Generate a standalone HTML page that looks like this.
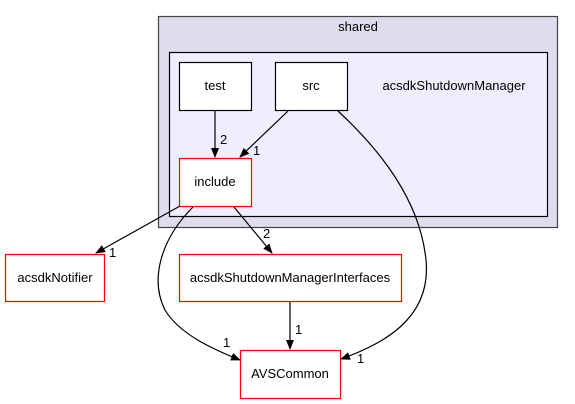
<!DOCTYPE html>
<html><head><style>html,body{margin:0;padding:0;background:#fff;}svg{display:block}</style></head>
<body>
<svg width="575" height="404" xmlns="http://www.w3.org/2000/svg" font-family="Liberation Sans, sans-serif" font-size="13">
<defs><marker id="a" markerWidth="10" markerHeight="8" refX="9" refY="4" orient="auto" markerUnits="userSpaceOnUse"><path d="M0,0 L10,4 L0,8 z" fill="#000"/></marker></defs>
<rect x="158.5" y="16.5" width="399" height="211" fill="#ddddee" stroke="#444" stroke-width="1.2"/>
<text x="358" y="31" text-anchor="middle">shared</text>
<rect x="169.5" y="52.5" width="378" height="164" fill="#eeeeff" stroke="#000" stroke-width="1.2"/>
<text x="454" y="90" text-anchor="middle">acsdkShutdownManager</text>
<rect x="179.5" y="62.5" width="72" height="48" fill="#fff" stroke="#000" stroke-width="1.2"/>
<text x="215" y="90" text-anchor="middle">test</text>
<rect x="275.5" y="62.5" width="72" height="48" fill="#fff" stroke="#000" stroke-width="1.2"/>
<text x="311" y="90" text-anchor="middle">src</text>
<rect x="179.5" y="158.5" width="72" height="48" fill="#fff" stroke="#f00" stroke-width="1.2"/>
<text x="215" y="186" text-anchor="middle">include</text>
<rect x="5.5" y="254.5" width="99" height="47" fill="#fff" stroke="#f00" stroke-width="1.2"/>
<text x="55" y="282" text-anchor="middle">acsdkNotifier</text>
<rect x="179.5" y="254.5" width="222" height="47" fill="#fff" stroke="#f00" stroke-width="1.2"/>
<text x="290" y="282" text-anchor="middle">acsdkShutdownManagerInterfaces</text>
<rect x="240.5" y="350.5" width="100" height="48" fill="#fff" stroke="#f00" stroke-width="1.2"/>
<text x="290" y="378" text-anchor="middle">AVSCommon</text>
<g fill="none" stroke="#000" stroke-width="1.2">
<path d="M215,111 L215,157" marker-end="url(#a)"/>
<path d="M288,111 L240,157" marker-end="url(#a)"/>
<path d="M338,111 C380,150 420,200 426,260 C432,320 380,345 341,359" marker-end="url(#a)"/>
<path d="M193,207 C160,240 150,280 165,310 C180,335 215,350 240,360" marker-end="url(#a)"/>
<path d="M234,207 L272,253" marker-end="url(#a)"/>
<path d="M290,302 L290,349" marker-end="url(#a)"/>
<path d="M180,206 L96,253" marker-end="url(#a)"/>
</g>
<text x="220" y="144">2</text>
<text x="253" y="155">1</text>
<text x="357" y="363">1</text>
<text x="223" y="347">1</text>
<text x="263" y="238">2</text>
<text x="295" y="334">1</text>
<text x="109" y="257">1</text>
</svg>
</body></html>
